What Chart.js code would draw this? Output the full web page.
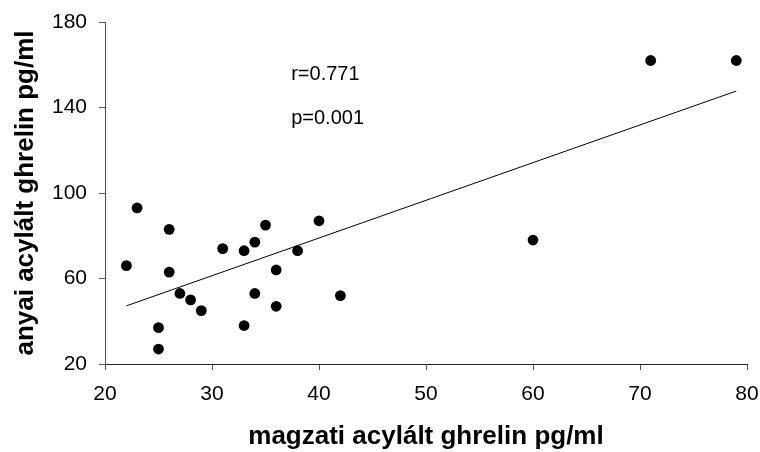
<!DOCTYPE html>
<html>
<head>
<meta charset="utf-8">
<script src="https://cdn.jsdelivr.net/npm/chart.js@4.4.1/dist/chart.umd.min.js"></script>
<style>
  html, body { margin: 0; padding: 0; background: #fff; }
  #wrap { width: 760px; height: 452px; }
</style>
</head>
<body>
<div id="wrap"><canvas id="scatter"></canvas></div>
<script>
// magzati (fetal) vs anyai (maternal) acylated ghrelin, pg/ml
const fetal = [23, 26, 22, 26, 27, 28, 29, 25, 25, 31, 33, 34, 35, 38, 40, 36, 34, 36, 33, 42, 60, 71, 79];
const maternal = [93, 83, 66, 63, 53, 50, 45, 37, 27, 74, 73, 77, 85, 73, 87, 64, 53, 47, 38, 52, 78, 162, 162];
// regression line end points
const trendX = [22, 79];
const trendY = [47.2, 147.7];
const xTicks = [20, 30, 40, 50, 60, 70, 80];
const yTicks = [20, 60, 100, 140, 180];
const statLines = ['r=0.771', 'p=0.001'];

const FONT = "'Liberation Sans', Arial, sans-serif";

const points = fetal.map((x, i) => ({ x: x, y: maternal[i] }));
const trend = trendX.map((x, i) => ({ x: x, y: trendY[i] }));

const statsText = {
  id: 'statsText',
  afterDatasetsDraw(chart) {
    const { ctx, scales } = chart;
    ctx.save();
    ctx.fillStyle = '#000';
    ctx.font = '20px ' + FONT;
    ctx.textAlign = 'left';
    ctx.textBaseline = 'middle';
    const x = scales.x.getPixelForValue(37.4);
    ctx.fillText(statLines[0], x, scales.y.getPixelForValue(155.5));
    ctx.fillText(statLines[1], x, scales.y.getPixelForValue(135));
    ctx.restore();
  }
};

new Chart(document.getElementById('scatter'), {
  type: 'scatter',
  data: {
    datasets: [
      {
        label: 'data',
        data: points,
        backgroundColor: '#000',
        borderWidth: 0,
        pointRadius: 5.4,
        pointHoverRadius: 5.4
      },
      {
        label: 'trend',
        type: 'line',
        data: trend,
        borderColor: '#000',
        borderWidth: 1,
        pointRadius: 0,
        fill: false
      }
    ]
  },
  options: {
    responsive: true,
    maintainAspectRatio: false,
    animation: false,
    layout: { padding: { left: 0, top: 22, right: 13, bottom: 0 } },
    plugins: { legend: { display: false }, tooltip: { enabled: false } },
    scales: {
      x: {
        type: 'linear',
        min: 20,
        max: 80,
        afterBuildTicks: (s) => { s.ticks = xTicks.map(v => ({ value: v })); },
        afterFit: (s) => { s.height = 88; s.paddingLeft = 0; s.paddingRight = 0; },
        grid: { drawOnChartArea: false, drawTicks: true, tickLength: 6, color: '#555' },
        border: { color: '#222', width: 1 },
        ticks: { color: '#000', padding: 12, font: { family: FONT, size: 21 } },
        title: {
          display: true,
          text: 'magzati acylált ghrelin pg/ml',
          color: '#000',
          padding: { top: 0, bottom: 0 },
          font: { family: FONT, size: 26, weight: 'bold' }
        }
      },
      y: {
        type: 'linear',
        min: 20,
        max: 180,
        afterBuildTicks: (s) => { s.ticks = yTicks.map(v => ({ value: v })); },
        afterFit: (s) => { s.width = 105; s.paddingTop = 0; s.paddingBottom = 0; },
        grid: { drawOnChartArea: false, drawTicks: true, tickLength: 6, color: '#555' },
        border: { color: '#555', width: 1 },
        ticks: { color: '#000', padding: 12, font: { family: FONT, size: 21 } },
        title: {
          display: true,
          text: 'anyai acylált ghrelin pg/ml',
          color: '#000',
          padding: { top: 10, bottom: 0 },
          font: { family: FONT, size: 26, weight: 'bold' }
        }
      }
    }
  },
  plugins: [statsText]
});
</script>
</body>
</html>
